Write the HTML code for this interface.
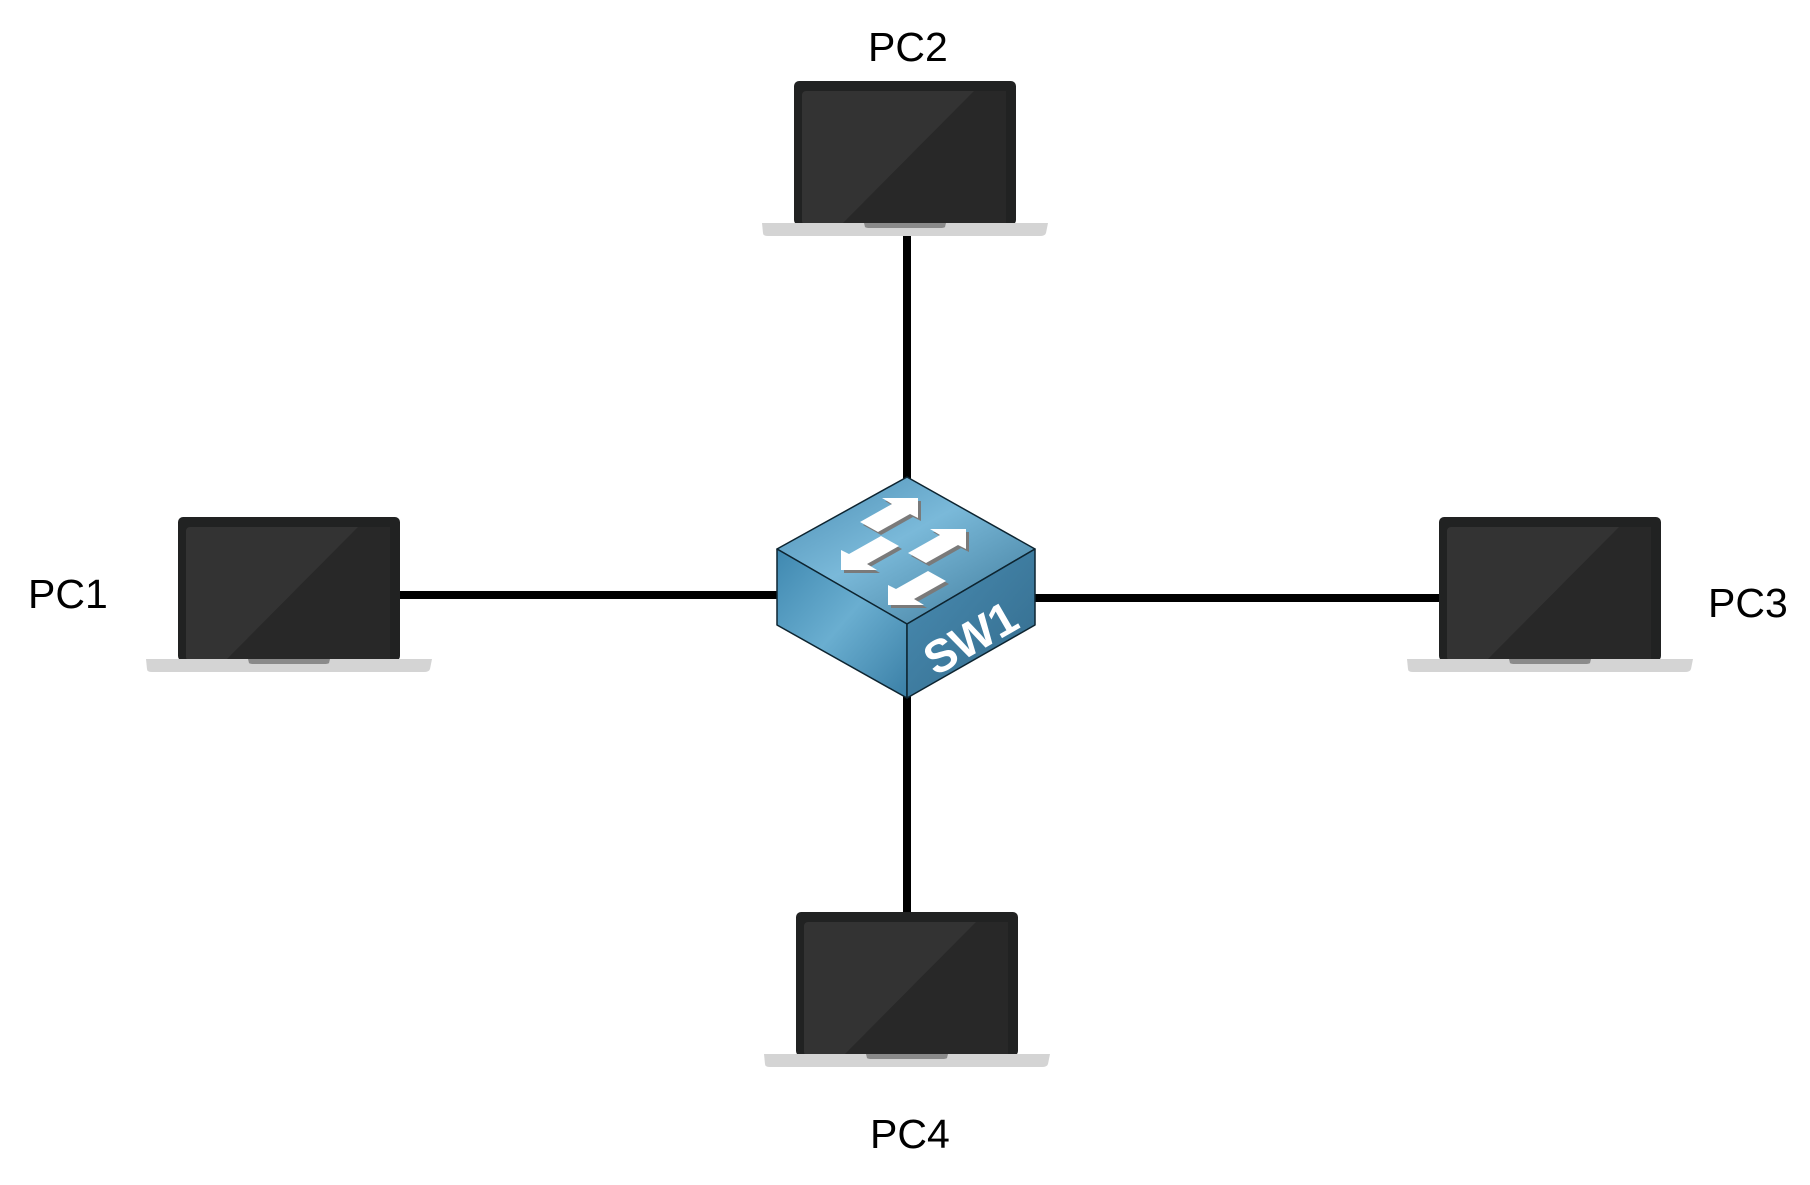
<!DOCTYPE html>
<html><head><style>
html,body{margin:0;padding:0;background:#fff;}
svg{display:block;}
text{font-family:"Liberation Sans",sans-serif;}
</style></head><body>
<svg width="1810" height="1185" viewBox="0 0 1810 1185" xmlns="http://www.w3.org/2000/svg">
<defs>
<g id="lap">
<rect x="0" y="0" width="222" height="144" rx="5" fill="#212222"/>
<rect x="8" y="10" width="204" height="134" rx="4" fill="#333333"/>
<polygon points="180,10 212,10 212,144 47,144" fill="#282828"/>
<path d="M-32,142 L254,142 L252,152 Q251,155 246,155 L-26,155 Q-31,155 -31,152 Z" fill="#d4d4d4"/>
<path d="M70,142 L152,142 L151,146 Q150,147 146,147 L76,147 Q72,147 71,146 Z" fill="#8a8a8a"/>
</g>
<linearGradient id="gt" x1="0" y1="0" x2="1" y2="1"><stop offset="0" stop-color="#4b8db3"/><stop offset="0.45" stop-color="#7ab9d9"/><stop offset="1" stop-color="#3d7898"/></linearGradient>
<linearGradient id="gl" x1="0" y1="0" x2="1" y2="1"><stop offset="0" stop-color="#3f88b0"/><stop offset="0.5" stop-color="#6aaed0"/><stop offset="1" stop-color="#3a7fa6"/></linearGradient>
<linearGradient id="gr" x1="0" y1="0" x2="1" y2="1"><stop offset="0" stop-color="#4a8db3"/><stop offset="1" stop-color="#336b8c"/></linearGradient>
<g id="arrows">
<polygon points="860,522 892,504 882,498 918,498 918,518 910,514 878,532"/>
<polygon points="908,553 940,535 930,529 966,529 966,549 958,545 926,563"/>
<polygon points="899,546 867,564 877,570 841,570 841,550 849,554 881,536"/>
<polygon points="946,581 914,599 924,605 888,605 888,585 896,589 928,571"/>
</g>
</defs>
<g stroke="#000" stroke-width="8">
<line x1="907" y1="236" x2="907" y2="480"/>
<line x1="907" y1="695" x2="907" y2="912"/>
<line x1="400" y1="595" x2="780" y2="595"/>
<line x1="1032" y1="598" x2="1440" y2="598"/>
</g>
<use href="#lap" x="178" y="517"/>
<use href="#lap" x="794" y="81"/>
<use href="#lap" x="1439" y="517"/>
<use href="#lap" x="796" y="912"/>
<g stroke="#0d2430" stroke-width="1.5" stroke-linejoin="round">
<polygon points="907,477 1035,549 907,624 777,549" fill="url(#gt)"/>
<polygon points="777,549 907,624 907,698 777,625" fill="url(#gl)"/>
<polygon points="907,624 1035,549 1035,625 907,698" fill="url(#gr)"/>
</g>
<use href="#arrows" fill="#7a7a7a" x="3" y="3"/>
<use href="#arrows" fill="#ffffff"/>
<text x="970" y="654" font-size="46" font-weight="bold" fill="#fff" text-anchor="middle" transform="rotate(-30 970 637)">SW1</text>
<g font-size="41" fill="#000">
<text x="28" y="608">PC1</text>
<text x="868" y="61">PC2</text>
<text x="1708" y="617">PC3</text>
<text x="870" y="1148">PC4</text>
</g>
</svg>
</body></html>
